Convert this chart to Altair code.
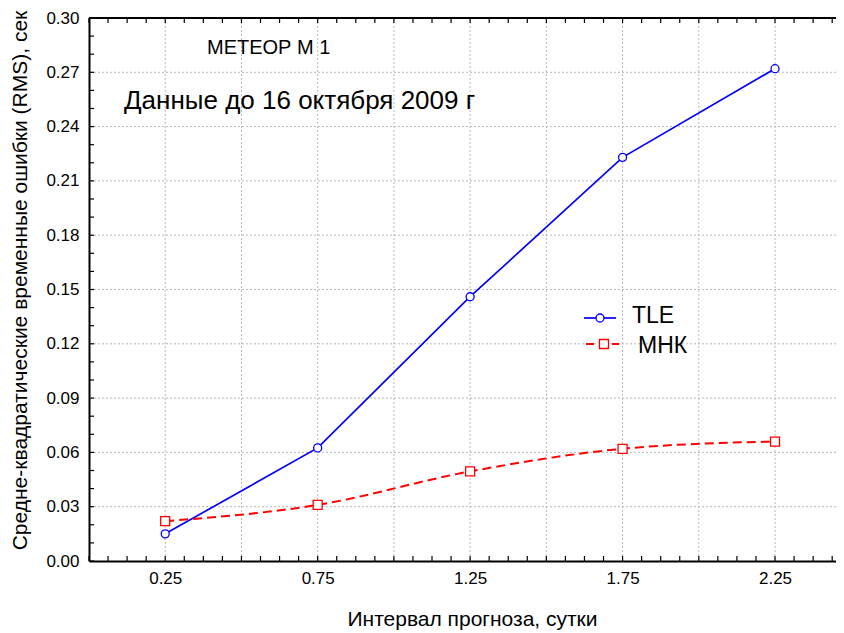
import altair as alt
import pandas as pd

# ---- data ----
x_vals = [0.25, 0.75, 1.25, 1.75, 2.25]
tle_vals = [0.015, 0.0625, 0.146, 0.223, 0.272]
mnk_vals = [0.022, 0.031, 0.0495, 0.062, 0.066]

x_labels = [0.25, 0.75, 1.25, 1.75, 2.25]
y_labels = [0.00, 0.03, 0.06, 0.09, 0.12, 0.15, 0.18, 0.21, 0.24, 0.27, 0.30]
x_grid = [0.25, 0.5, 0.75, 1.0, 1.25, 1.5, 1.75, 2.0, 2.25]
y_grid = [0.03, 0.06, 0.09, 0.12, 0.15, 0.18, 0.21, 0.24, 0.27]
x_minor = [i * 0.0625 for i in range(0, 40)]
y_minor = [round(i * 0.01, 2) for i in range(0, 31)]

W, H = 747, 543
FONT = "Liberation Sans"

tle = pd.DataFrame({"x": x_vals, "y": tle_vals})
mnk = pd.DataFrame({"x": x_vals, "y": mnk_vals})

xs = alt.Scale(domain=[0, 2.45], nice=False, zero=False)
ys = alt.Scale(domain=[0, 0.30], nice=False, zero=False)

x_axis = alt.Axis(
    values=x_labels, format=".2f", grid=False, ticks=False,
    domainColor="black", domainWidth=2, labelFont=FONT, labelFontSize=17,
    labelColor="black", labelPadding=9, title="Интервал прогноза, сутки",
    titleFont=FONT, titleFontSize=21, titleFontWeight="normal", titleColor="black",
    titleX=383, titleY=58, titleBaseline="middle", titleAlign="center",
)
y_axis = alt.Axis(
    values=y_labels, format=".2f", grid=False, ticks=False,
    domainColor="black", domainWidth=2, labelFont=FONT, labelFontSize=17,
    labelColor="black", labelPadding=10,
    title="Средне-квадратические временные ошибки (RMS), сек",
    titleFont=FONT, titleFontSize=21, titleFontWeight="normal", titleColor="black",
    titleX=-69, titleY=262, titleBaseline="middle", titleAlign="center", titleAngle=270,
)

# grid
vgrid = alt.Chart(pd.DataFrame({"x": x_grid})).mark_rule(
    color="#b8b8b8", strokeDash=[2, 2], strokeWidth=1
).encode(x=alt.X("x:Q", scale=xs, axis=x_axis))
hgrid = alt.Chart(pd.DataFrame({"y": y_grid})).mark_rule(
    color="#b8b8b8", strokeDash=[2, 2], strokeWidth=1
).encode(y=alt.Y("y:Q", scale=ys, axis=y_axis))

# series
tle_line = alt.Chart(tle).mark_line(color="#0000ff", strokeWidth=1.7).encode(
    x=alt.X("x:Q", scale=xs), y=alt.Y("y:Q", scale=ys))
mnk_line = alt.Chart(mnk).mark_line(
    color="#ff0000", strokeWidth=2, strokeDash=[9, 5], interpolate="monotone"
).encode(x=alt.X("x:Q", scale=xs), y=alt.Y("y:Q", scale=ys))
tle_pts = alt.Chart(tle).mark_point(
    shape="circle", size=64, fill="white", stroke="#0000ff", strokeWidth=1.3, opacity=1, filled=True
).encode(x=alt.X("x:Q", scale=xs), y=alt.Y("y:Q", scale=ys))
mnk_pts = alt.Chart(mnk).mark_point(
    shape="square", size=81, fill="white", stroke="#ff0000", strokeWidth=1.3, opacity=1, filled=True
).encode(x=alt.X("x:Q", scale=xs), y=alt.Y("y:Q", scale=ys))

# inward ticks
y_ticks = alt.Chart(pd.DataFrame({"y": y_minor})).mark_rule(color="black", strokeWidth=1.2).encode(
    y=alt.Y("y:Q", scale=ys), x=alt.value(0), x2=alt.value(5))
xb_ticks = alt.Chart(pd.DataFrame({"x": x_minor})).mark_rule(color="black", strokeWidth=1.2).encode(
    x=alt.X("x:Q", scale=xs), y=alt.value(H), y2=alt.value(H - 5))
xt_ticks = alt.Chart(pd.DataFrame({"x": x_minor})).mark_rule(color="black", strokeWidth=1.2).encode(
    x=alt.X("x:Q", scale=xs), y=alt.value(0), y2=alt.value(5))
top_line = alt.Chart(pd.DataFrame({"a": [0]})).mark_rule(color="black", strokeWidth=2).encode(
    x=alt.value(0), x2=alt.value(W), y=alt.value(0))

one = pd.DataFrame({"a": [0]})

# annotations
ann1 = alt.Chart(one).mark_text(text="МЕТЕОР М 1", font=FONT, fontSize=20, align="left",
                                baseline="middle", color="black").encode(x=alt.value(118), y=alt.value(30))
ann2 = alt.Chart(one).mark_text(text="Данные до 16 октября 2009 г", font=FONT, fontSize=26, align="left",
                                baseline="middle", color="black").encode(x=alt.value(35), y=alt.value(83))

# legend (drawn manually, as in the reference)
leg_tle_line = alt.Chart(one).mark_rule(color="#0000ff", strokeWidth=1.7).encode(
    x=alt.value(495), x2=alt.value(527), y=alt.value(300))
leg_tle_pt = alt.Chart(one).mark_point(shape="circle", size=64, fill="white", stroke="#0000ff",
                                       strokeWidth=1.3, opacity=1, filled=True).encode(
    x=alt.value(511), y=alt.value(300))
leg_tle_txt = alt.Chart(one).mark_text(text="TLE", font=FONT, fontSize=23, align="left",
                                       baseline="middle", color="black").encode(
    x=alt.value(543), y=alt.value(298))
leg_mnk_line = alt.Chart(one).mark_rule(color="#ff0000", strokeWidth=2, strokeDash=[8, 5]).encode(
    x=alt.value(497), x2=alt.value(530), y=alt.value(326))
leg_mnk_pt = alt.Chart(one).mark_point(shape="square", size=81, fill="white", stroke="#ff0000",
                                       strokeWidth=1.3, opacity=1, filled=True).encode(
    x=alt.value(515), y=alt.value(326))
leg_mnk_txt = alt.Chart(one).mark_text(text="МНК", font=FONT, fontSize=23, align="left",
                                       baseline="middle", color="black").encode(
    x=alt.value(549), y=alt.value(328))

chart = alt.layer(
    vgrid, hgrid, tle_line, mnk_line, tle_pts, mnk_pts,
    y_ticks, xb_ticks, xt_ticks, top_line, ann1, ann2,
    leg_tle_line, leg_mnk_line, leg_tle_pt, leg_mnk_pt, leg_tle_txt, leg_mnk_txt,
).properties(
    width=W, height=H,
    autosize=alt.AutoSizeParams(type="none"),
    padding={"left": 81, "top": 10, "right": 0, "bottom": 70},
    background="white",
).configure_view(stroke=None)

chart.save("out.html", embed_options={"renderer": "svg", "actions": False})
